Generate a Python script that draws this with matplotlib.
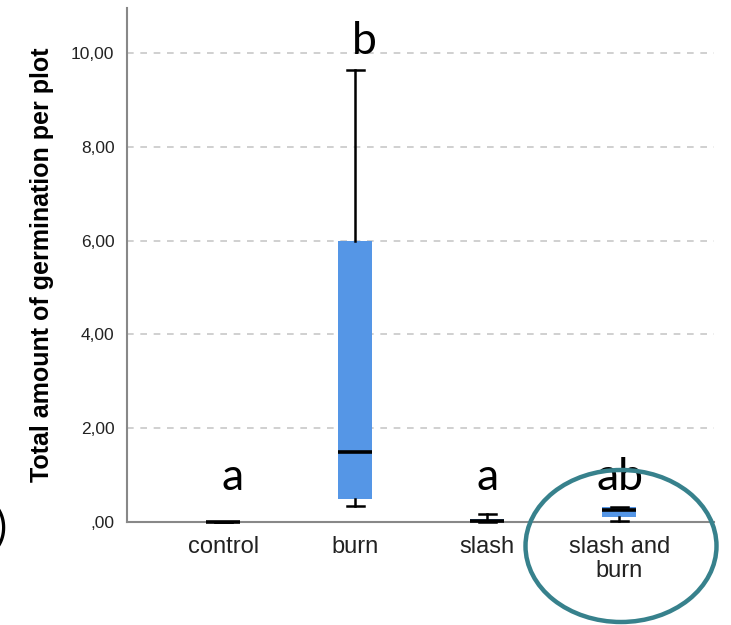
import matplotlib
matplotlib.use("Agg")
import matplotlib.pyplot as plt
from matplotlib.patches import Ellipse
from matplotlib.ticker import FuncFormatter

# treatment groups and their five-number summaries
groups = ["control", "burn", "slash", "slash and\nburn"]
whis_lo = [0.0, 0.35, 0.0, 0.02]
q1 = [0.0, 0.5, 0.0, 0.11]
median = [0.0, 1.5, 0.03, 0.26]
q3 = [0.0, 6.0, 0.06, 0.33]
whis_hi = [0.0, 9.65, 0.17, 0.33]

# significance letters and where they sit
letters = ["a", "b", "a", "ab"]
letter_y = [0.68, 9.98, 0.68, 0.68]
letter_dx = [0.07, 0.07, 0.0, 0.01]

yticks = [0, 2, 4, 6, 8, 10]

BLUE = "#5596e6"
TEAL = "#37818c"

fig = plt.figure(figsize=(7.31, 6.25), dpi=100)
ax = fig.add_axes([0.1737, 0.1648, 0.8033, 0.8222])

stats = []
for i, g in enumerate(groups):
    stats.append(dict(label=g, whislo=whis_lo[i], q1=q1[i], med=median[i],
                      q3=q3[i], whishi=whis_hi[i], fliers=[]))

pos = list(range(len(groups)))
parts = ax.bxp(stats, positions=pos, widths=0.255, patch_artist=True,
               showfliers=False, capwidths=0.13,
               boxprops=dict(facecolor=BLUE, edgecolor=BLUE, linewidth=0),
               medianprops=dict(color="black", linewidth=2.6, solid_capstyle="butt"),
               whiskerprops=dict(color="black", linewidth=1.8),
               capprops=dict(color="black", linewidth=1.8),
               zorder=3)
# zero-valued groups sit on the axis line; keep them fully visible
for key in ("medians", "boxes", "whiskers", "caps"):
    for art in parts[key]:
        art.set_clip_on(False)

ax.set_xlim(-0.73, 3.72)
ax.set_ylim(0, 10.96)
ax.set_yticks(yticks)
ax.yaxis.set_major_formatter(
    FuncFormatter(lambda v, p: ",00" if v == 0 else f"{v:.2f}".replace(".", ",")))
ax.set_xticks(pos)
ax.set_xticklabels(groups, fontsize=17, color="#222222",
                   family="Liberation Sans", linespacing=1.15)
for lab in ax.get_yticklabels():
    lab.set_fontsize(12.5)
    lab.set_family("Liberation Sans")
    lab.set_color("#222222")
ax.tick_params(axis="both", length=0)
ax.tick_params(axis="y", pad=9)
ax.tick_params(axis="x", pad=10)

ax.grid(axis="y", color="#c8c8c8", linestyle=(0, (4, 4)), linewidth=1.2, zorder=0)
ax.set_axisbelow(True)
for side in ("top", "right"):
    ax.spines[side].set_visible(False)
for side in ("left", "bottom"):
    ax.spines[side].set_color("#888888")
    ax.spines[side].set_linewidth(1.5)
    ax.spines[side].set_zorder(2)

ax.set_ylabel("Total amount of germination per plot", fontsize=18,
              fontweight="bold", family="Liberation Sans", labelpad=12)

for i, (t, yv, dx) in enumerate(zip(letters, letter_y, letter_dx)):
    ax.text(i + dx, yv, t, ha="center", va="baseline", fontsize=32,
            family="Lato", color="black", zorder=5)

# highlight ring around the last group
ring = Ellipse((621 / 731, 1 - 546 / 625), 191 / 731, 152 / 625,
               transform=fig.transFigure, fill=False, edgecolor=TEAL,
               linewidth=3.2, zorder=6)
fig.patches.append(ring)

# closing bracket of the panel tag at the left edge
fig.text(-0.006, 1 - 528 / 625, ")", fontsize=30, va="center", ha="left",
         family="Lato")

fig.savefig("out.png", dpi=100)
